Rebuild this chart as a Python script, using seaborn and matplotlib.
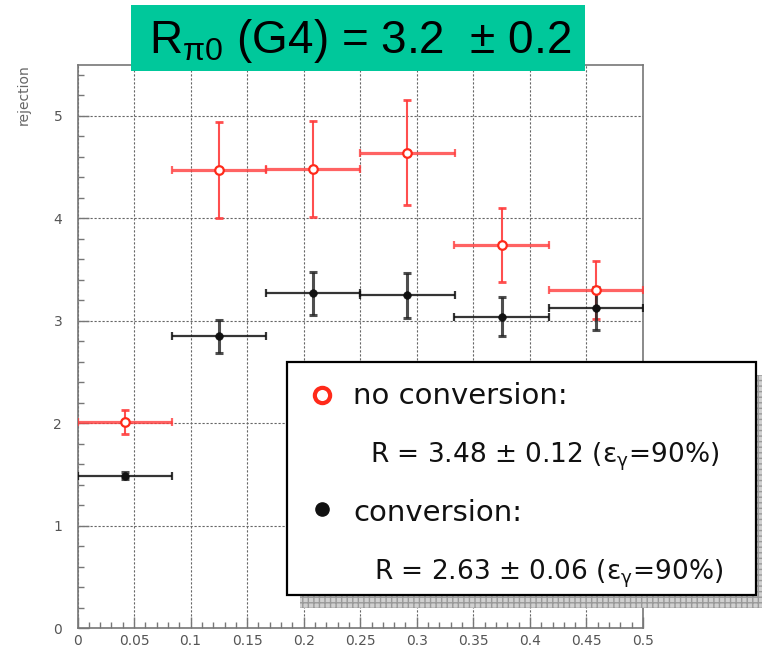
import matplotlib
matplotlib.use("Agg")
import matplotlib.pyplot as plt
import pandas as pd
import seaborn as sns
from matplotlib.patches import Rectangle
from matplotlib.lines import Line2D
from matplotlib.ticker import FixedLocator, FixedFormatter, MultipleLocator

# ---- data -------------------------------------------------------------
bin_centers = [0.0417, 0.125, 0.2083, 0.2917, 0.375, 0.4583]
bin_halfwidth = [0.0417, 0.0417, 0.0417, 0.0417, 0.0417, 0.0417]

noconv_rejection = [2.01, 4.47, 4.48, 4.64, 3.74, 3.30]
noconv_error = [0.115, 0.465, 0.47, 0.51, 0.36, 0.28]

conv_rejection = [1.49, 2.85, 3.27, 3.25, 3.04, 3.12]
conv_error = [0.03, 0.16, 0.21, 0.22, 0.19, 0.21]

x_ticks = [0, 0.05, 0.1, 0.15, 0.2, 0.25, 0.3, 0.35, 0.4, 0.45, 0.5]
x_ticklabels = ["0", "0.05", "0.1", "0.15", "0.2", "0.25", "0.3", "0.35", "0.4", "0.45", "0.5"]
y_ticks = [0, 1, 2, 3, 4, 5]
y_ticklabels = ["0", "1", "2", "3", "4", "5"]

title_text = r"R$_{\mathregular{π0}}$ (G4) = 3.2  ± 0.2"
legend_labels = ["no conversion:", "conversion:"]
legend_results = [r"R = 3.48 ± 0.12 (ε$_{\mathregular{γ}}$=90%)",
                  r"R = 2.63 ± 0.06 (ε$_{\mathregular{γ}}$=90%)"]

df_noconv = pd.DataFrame({"x": bin_centers, "y": noconv_rejection})
df_conv = pd.DataFrame({"x": bin_centers, "y": conv_rejection})

# ---- style ------------------------------------------------------------
sns.set_theme(style="white")
plt.rcParams["font.family"] = ["DejaVu Sans"]

RED = "#ff3c3c"
RED_MK = "#ff2a1a"
BLACK = "#111111"
GRAY = "#777777"

W, H = 762, 648
fig = plt.figure(figsize=(W / 100, H / 100), dpi=100)


def fx(px):
    return px / W


def fy(py):
    return 1 - py / H


ax = fig.add_axes([fx(77.5), fy(628.3), fx(643) - fx(77.5), fy(64.5) - fy(628.3)])
ax.set_facecolor("white")

# ---- error bars -------------------------------------------------------
ax.errorbar(bin_centers, noconv_rejection, xerr=bin_halfwidth, fmt="none",
            ecolor=RED, elinewidth=2.3, capsize=3.0, capthick=1.6, alpha=0.8, zorder=3)
ax.errorbar(bin_centers, noconv_rejection, yerr=noconv_error, fmt="none",
            ecolor=RED, elinewidth=1.5, capsize=3.2, capthick=2.0, alpha=0.9, zorder=3)
ax.errorbar(bin_centers, conv_rejection, xerr=bin_halfwidth, fmt="none",
            ecolor=BLACK, elinewidth=1.6, capsize=3.0, capthick=1.6, alpha=0.85, zorder=4)
ax.errorbar(bin_centers, conv_rejection, yerr=conv_error, fmt="none",
            ecolor="#222222", elinewidth=2.2, capsize=3.2, capthick=2.2, alpha=0.8, zorder=4)

# ---- points -----------------------------------------------------------
sns.scatterplot(data=df_noconv, x="x", y="y", ax=ax, marker="o", s=38,
                color="white", edgecolor=RED_MK, linewidth=1.6, zorder=6, legend=False)
sns.scatterplot(data=df_conv, x="x", y="y", ax=ax, marker="o", s=30,
                color=BLACK, edgecolor=BLACK, linewidth=0.5, zorder=7, legend=False)

# ---- axes -------------------------------------------------------------
ax.set_xlim(0, 0.5)
ax.set_ylim(0, 5.5)
ax.xaxis.set_major_locator(FixedLocator(x_ticks))
ax.xaxis.set_major_formatter(FixedFormatter(x_ticklabels))
ax.xaxis.set_minor_locator(MultipleLocator(0.01))
ax.yaxis.set_major_locator(FixedLocator(y_ticks))
ax.yaxis.set_major_formatter(FixedFormatter(y_ticklabels))
ax.yaxis.set_minor_locator(MultipleLocator(0.2))

ax.tick_params(which="both", direction="in", color=GRAY, width=1.0,
               left=True, bottom=True, top=False, right=False)
ax.tick_params(which="major", length=8)
ax.tick_params(which="minor", length=4.3)
ax.tick_params(axis="x", which="major", labelsize=10, labelcolor="#555555", pad=4)
ax.tick_params(axis="y", which="major", labelsize=10, labelcolor="#555555", pad=11)

for s in ax.spines.values():
    s.set_color(GRAY)
    s.set_linewidth(1.2)

ax.grid(True, which="major", color="#666666", linestyle=(0, (2.0, 1.6)), linewidth=0.8)
ax.set_axisbelow(True)

ax.set_xlabel("")
ax.set_ylabel("rejection", loc="top", fontsize=10, color="#666666")
ax.yaxis.set_label_coords(-0.083, 1.0)

# ---- title box --------------------------------------------------------
fig.patches.append(Rectangle((fx(131.3), fy(70.7)), fx(584.7) - fx(131.3), fy(5) - fy(70.7),
                             transform=fig.transFigure, facecolor="#00c89b",
                             edgecolor="none", zorder=10))
fig.text(fx(360), fy(53.3), title_text, ha="center", va="baseline",
         fontsize=33, family=["Liberation Sans", "DejaVu Sans"], color="black", zorder=11)

# ---- legend box with shadow -------------------------------------------
fig.patches.append(Rectangle((fx(300), fy(608)), fx(775) - fx(300), fy(375) - fy(608),
                             transform=fig.transFigure, facecolor="#d0d0d0",
                             edgecolor="#999999", hatch="+++", linewidth=0, zorder=12))
fig.patches.append(Rectangle((fx(287.3), fy(595)), fx(756) - fx(287.3), fy(362) - fy(595),
                             transform=fig.transFigure, facecolor="white",
                             edgecolor="black", linewidth=1.6, zorder=13))

fig.lines.append(Line2D([fx(322)], [fy(395)], transform=fig.transFigure, marker="o",
                        markersize=11, markerfacecolor="white", markeredgecolor=RED_MK,
                        markeredgewidth=3.0, linestyle="none", zorder=14))
fig.lines.append(Line2D([fx(322)], [fy(509)], transform=fig.transFigure, marker="o",
                        markersize=9.5, markerfacecolor=BLACK, markeredgecolor=BLACK,
                        linestyle="none", zorder=14))

label_pos = [(353, 403.5), (353, 520.7)]
result_pos = [(370, 462.7), (374, 579.3)]
for txt, (px, py) in zip(legend_labels, label_pos):
    fig.text(fx(px), fy(py), txt, ha="left", va="baseline", fontsize=21,
             color="#111111", zorder=15)
for txt, (px, py) in zip(legend_results, result_pos):
    fig.text(fx(px), fy(py), txt, ha="left", va="baseline", fontsize=19,
             color="#111111", zorder=15)

fig.savefig("out.png", dpi=100)
